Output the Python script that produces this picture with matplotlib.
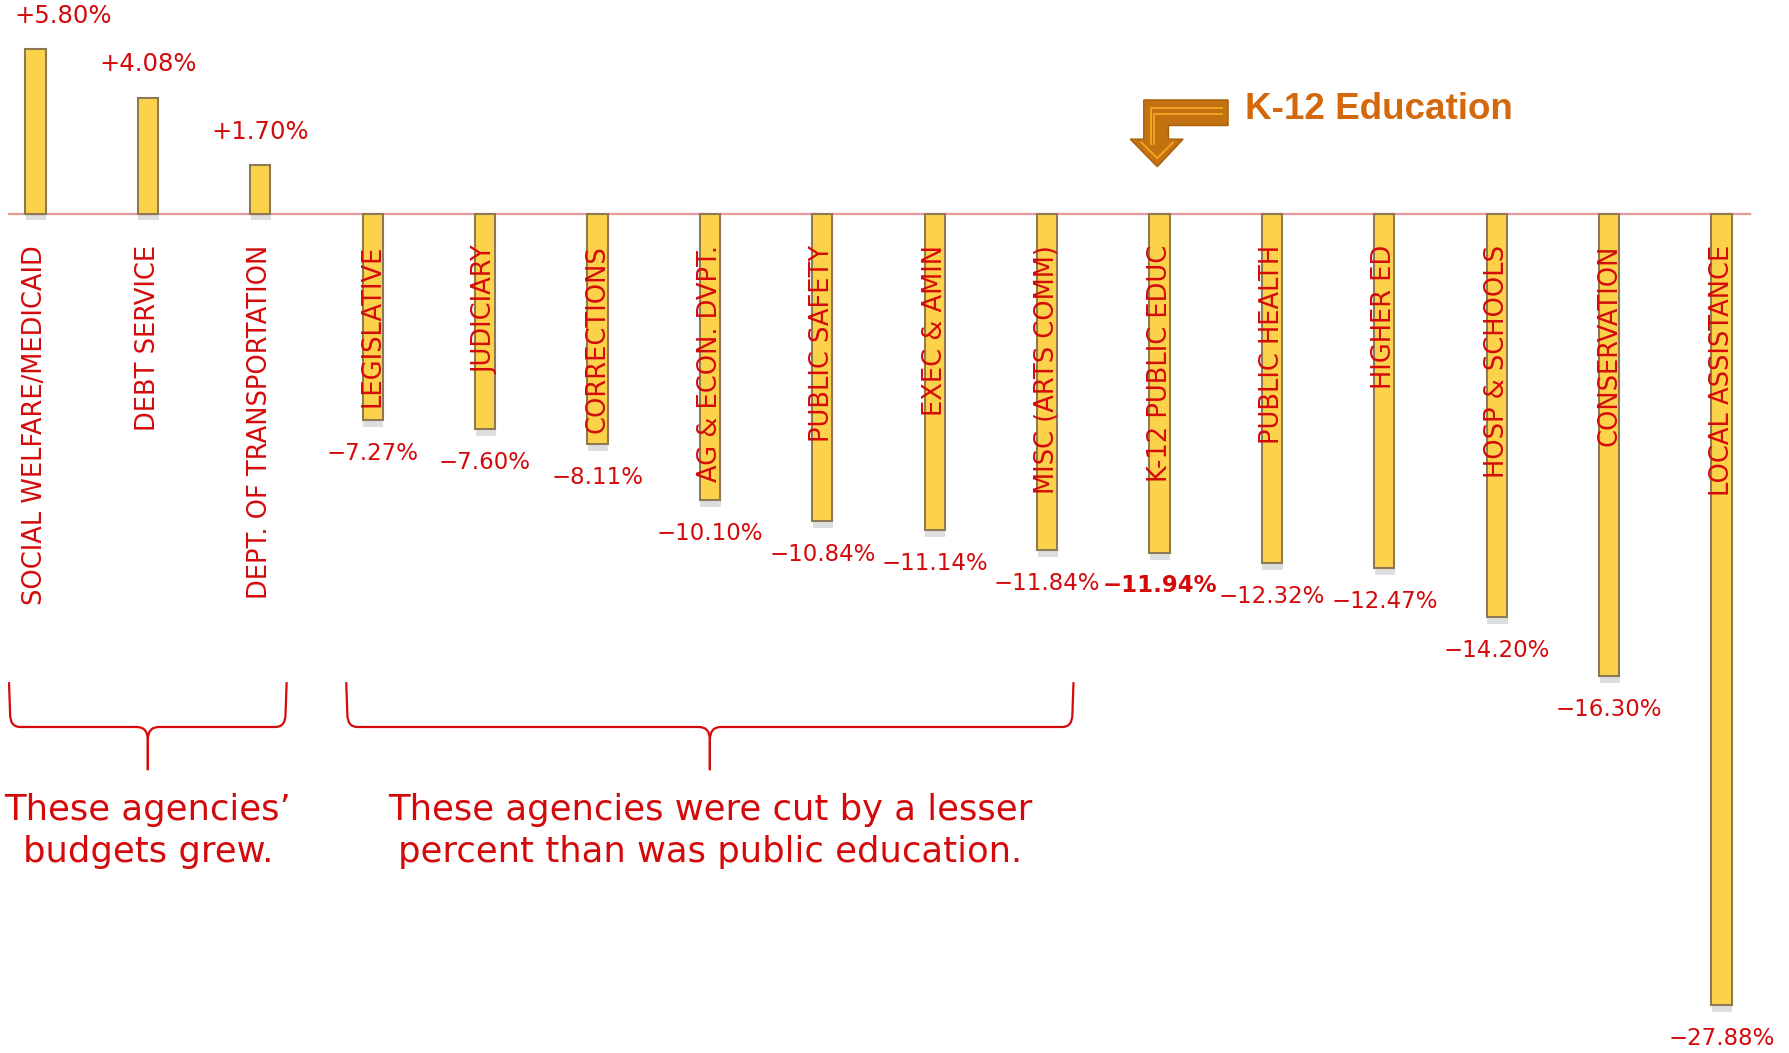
import numpy as np
import matplotlib
matplotlib.use("Agg")
import matplotlib.pyplot as plt
import matplotlib.patheffects as pe
from matplotlib.path import Path
from matplotlib.patches import PathPatch, Polygon

# data
categories = ["SOCIAL WELFARE/MEDICAID", "DEBT SERVICE", "DEPT. OF TRANSPORTATION",
              "LEGISLATIVE", "JUDICIARY", "CORRECTIONS", "AG & ECON. DVPT.",
              "PUBLIC SAFETY", "EXEC & AMIN", "MISC (ARTS COMM)", "K-12 PUBLIC EDUC",
              "PUBLIC HEALTH", "HIGHER ED", "HOSP & SCHOOLS", "CONSERVATION",
              "LOCAL ASSISTANCE"]
changes = [5.80, 4.08, 1.70, -7.27, -7.60, -8.11, -10.10, -10.84, -11.14,
           -11.84, -11.94, -12.32, -12.47, -14.20, -16.30, -27.88]
highlight = "K-12 PUBLIC EDUC"
groups = [(0, 2, "These agencies\u2019\nbudgets grew."),
          (3, 9, "These agencies were cut by a lesser\npercent than was public education.")]

RED = "#d40a0a"
BAR = "#fdd24b"
EDGE = "#8c7a55"
ORANGE = "#c27210"

fig = plt.figure(figsize=(17.89, 10.53), dpi=100)
ax = fig.add_axes([0, 0, 1, 1])
ax.axis("off")
ax.set_xlim(-0.315, 15.60)
ax.set_ylim(-29.56, 7.52)

x = np.arange(len(categories))
bars = ax.bar(x, changes, width=0.18, color=BAR, edgecolor=EDGE, linewidth=1.5, zorder=3)
for b in bars:
    b.set_path_effects([pe.withSimplePatchShadow(offset=(0.5, -5), shadow_rgbFace="k", alpha=0.13)])

ax.plot([-0.235, 15.25], [0, 0], color="#e69a9a", lw=1.6, zorder=2)

# category names, rotated, hanging just below the zero line
for xi, name in zip(x, categories):
    ax.text(xi, -1.1, name, rotation=90, ha="center", va="top", color=RED,
            fontsize=18.5, zorder=4)

# value labels
for xi, v, name in zip(x, changes, categories):
    lab = f"{v:+.2f}%".replace("-", "\u2212")
    bold = "bold" if name == highlight else "normal"
    if v > 0:
        lx = max(xi, 0.25)
        ax.annotate(lab, (lx, v), xytext=(0, 24), textcoords="offset points",
                    ha="center", va="center", color=RED, fontsize=17.5)
    else:
        ax.annotate(lab, (xi, v), xytext=(0, -24), textcoords="offset points",
                    ha="center", va="center", color=RED, fontsize=16.5, fontweight=bold)

# curly brackets under groups
ytop, yh, ytip = -16.5, -18.08, -19.6
rx, ry = 0.10, 0.45
for i0, i1, txt in groups:
    x0, x1 = i0 - 0.235, i1 + 0.235
    xm = (x0 + x1) / 2
    for a, s in ((x0, 1), (x1, -1)):
        verts = [(a, ytop), (a + s * 0.01, yh + ry), (a + s * 0.01, yh), (a + s * rx, yh),
                 (xm - s * rx, yh), (xm, yh), (xm, yh - ry), (xm, ytip)]
        codes = [Path.MOVETO, Path.LINETO, Path.CURVE3, Path.CURVE3,
                 Path.LINETO, Path.CURVE3, Path.CURVE3, Path.LINETO]
        ax.add_patch(PathPatch(Path(verts, codes), fill=False, edgecolor=RED, lw=1.6))
    ax.text(xm, -21.75, txt, ha="center", va="center", color=RED, fontsize=25.5,
            linespacing=1.3)

# K-12 arrow callout
k = categories.index(highlight)
arrow = [(k - 0.14, 4.0), (k + 0.61, 4.0), (k + 0.61, 3.10), (k + 0.08, 3.10),
         (k + 0.08, 2.62), (k + 0.21, 2.62), (k - 0.02, 1.65), (k - 0.26, 2.62),
         (k - 0.14, 2.62)]
ax.add_patch(Polygon(arrow, closed=True, facecolor=ORANGE, edgecolor="#a85f08", lw=1, zorder=5))
for d in (0.0, 0.035):
    ax.plot([k + 0.56, k - 0.08 + d, k - 0.08 + d], [3.72 - d * 6, 3.72 - d * 6, 2.45],
            color="#f8a521", lw=1.3, zorder=6)
ax.plot([k - 0.16, k - 0.02, k + 0.12], [2.5, 1.95, 2.5], color="#f8a521", lw=1.3, zorder=6)
ax.text(k + 0.76, 3.68, "K-12 Education", ha="left", va="center", color="#d4680c",
        fontsize=26.5, fontweight="bold", family="Liberation Sans")

fig.savefig("out.png", dpi=100)
